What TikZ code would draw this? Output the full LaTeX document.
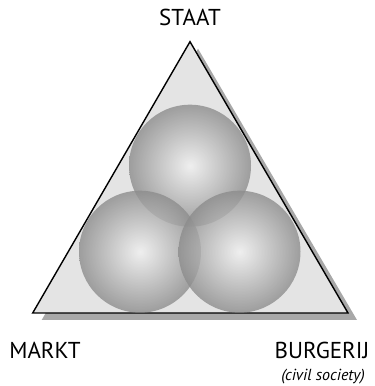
\documentclass[tikz,border=0pt]{standalone}
\usepackage{fontspec}
\setmainfont{PT Sans}
\usetikzlibrary{positioning,calc}
\definecolor{vlak}{RGB}{228,228,228}
\definecolor{schaduw}{RGB}{168,168,168}
\definecolor{balrand}{RGB}{140,140,140}
\definecolor{balmidden}{RGB}{242,242,242}

\begin{document}
\begin{tikzpicture}[x=1pt,y=1pt,
    bal/.style={circle, inner sep=0pt, minimum size=122pt,
      shading=radial, inner color=balmidden, outer color=balrand,
      fill opacity=0.8},
    tekst/.style={font=\fontsize{23}{26}\selectfont, inner sep=0pt}]
    \useasboundingbox (0,0) rectangle (375,386);

    % Corners
    \coordinate (T) at (190,344.3);
    \coordinate (L) at (32.7,73);
    \coordinate (R) at (348,73);

    % Shadow
    \fill[schaduw] ($(T)+(8,-7)$) -- ($(L)+(9,-7)$) -- ($(R)+(9,-7)$) -- cycle;
    % Triangle
    \filldraw[fill=vlak, draw=black, line width=1.4pt] (T) -- (L) -- (R) -- cycle;

    % Balls
    \node[bal] (staatbal) at (190,220.3) {};
    \node[bal] (marktbal) at (140,134.3) {};
    \node[bal] (burgerbal) at (239.5,134.3) {};

    % Labels
    \node[tekst] (staat) at (190,368.5) {STAAT};
    \node[tekst] (markt) at (45,36) {MARKT};
    \node[tekst] (burgerij) at (322,36) {BURGERIJ};
    \node[tekst, font=\fontsize{16}{18}\selectfont\itshape] (civil) at (323,9) {(civil society)};
  \end{tikzpicture}
\end{document}
